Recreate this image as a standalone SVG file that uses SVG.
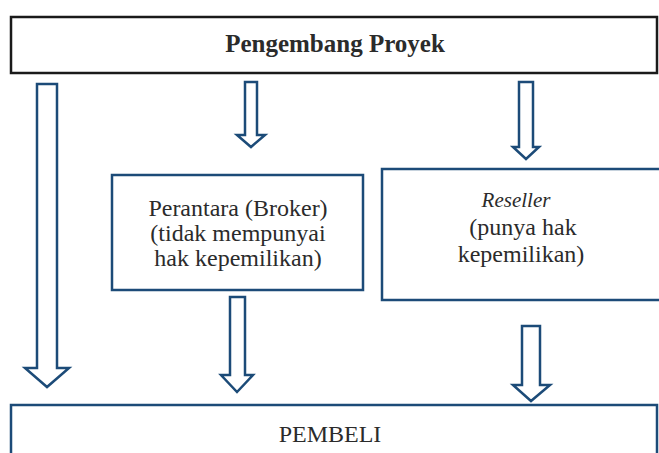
<svg xmlns="http://www.w3.org/2000/svg" width="659" height="453" viewBox="0 0 659 453">
<style>
.box{fill:#fff;stroke:#1c4b78;stroke-width:2.5}
.top{fill:#fff;stroke:#1a1a1a;stroke-width:2.5}
.arr{fill:#fff;stroke:#1c4b78;stroke-width:2.5;stroke-linejoin:miter}
text{font-family:"Liberation Serif","Times New Roman",serif;fill:#2b2b2b;text-anchor:middle}
.lbl{font-size:24px}
</style>
<rect width="659" height="453" fill="#fff"/>
<g id="connectors">
<polygon class="arr" points="37,84 57,84 57,368 69,368 47,387 25,368 37,368"/>
<polygon class="arr" points="245,82 257,82 257,135 265,135 251,147 237,135 245,135"/>
<polygon class="arr" points="230,297 245,297 245,375 253,375 237,392 221,375 230,375"/>
<polygon class="arr" points="519,82 533,82 533,147 539,147 526,159 513,147 519,147"/>
<polygon class="arr" points="522,326 540,326 540,385 550,385 531,401 513,385 522,385"/>
</g>
<g id="pengembang">
<rect class="top" x="11" y="17" width="646" height="56"/>
<text x="335" y="52" font-size="25" font-weight="bold">Pengembang Proyek</text>
</g>
<g id="broker">
<rect class="box" x="112" y="175" width="251" height="115"/>
<text class="lbl" x="238" y="216">Perantara (Broker)</text>
<text class="lbl" x="238" y="241">(tidak mempunyai</text>
<text class="lbl" x="238" y="266">hak kepemilikan)</text>
</g>
<g id="reseller">
<rect class="box" x="382" y="169" width="290" height="131"/>
<text x="516" y="207" font-size="21" font-style="italic">Reseller</text>
<text class="lbl" x="523" y="235">(punya hak</text>
<text class="lbl" x="521" y="262">kepemilikan)</text>
</g>
<g id="pembeli">
<rect class="box" x="11" y="405" width="646" height="60"/>
<text class="lbl" x="330" y="442">PEMBELI</text>
</g>
</svg>
